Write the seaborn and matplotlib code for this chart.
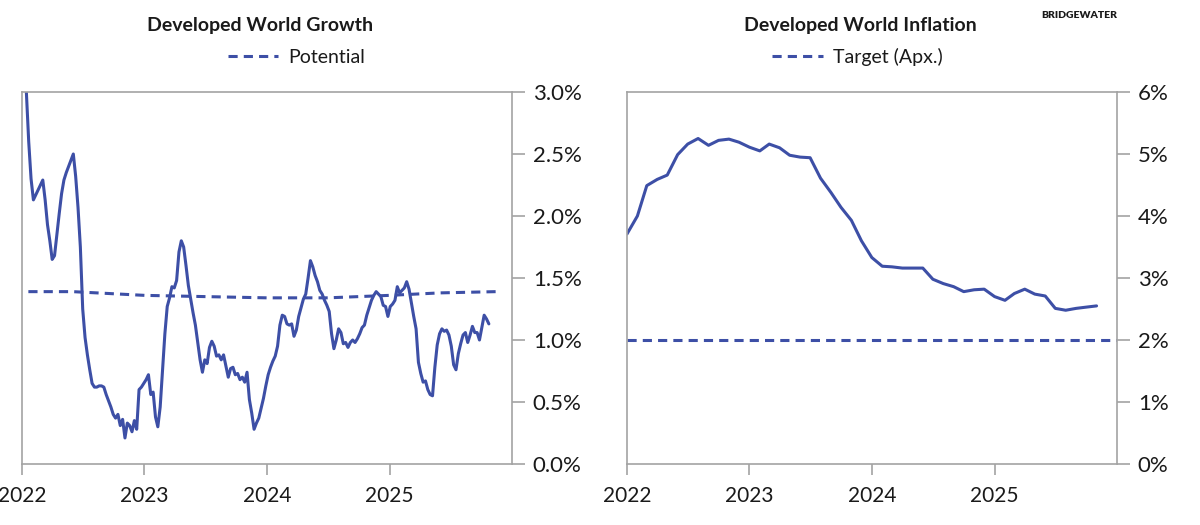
import numpy as np
import pandas as pd
import seaborn as sns
import matplotlib
matplotlib.use("Agg")
import matplotlib.pyplot as plt
from matplotlib.ticker import FuncFormatter

# ---- data (percent) ----
# weekly growth readings starting mid-Jan 2022
growth_start = "2022-01-14"
growth_values = [
    3.00, 2.60, 2.30, 2.13, 2.17, 2.21, 2.25, 2.29, 2.13, 1.93, 1.80, 1.65,
    1.68, 1.85, 2.02, 2.18, 2.29, 2.35, 2.40, 2.45, 2.50, 2.32, 2.07, 1.75,
    1.25, 1.02, 0.88, 0.76, 0.65, 0.62, 0.62, 0.63, 0.63, 0.62, 0.56, 0.51,
    0.46, 0.40, 0.37, 0.40, 0.31, 0.36, 0.21, 0.33, 0.31, 0.26, 0.35, 0.28,
    0.60, 0.62, 0.65, 0.68, 0.72, 0.56, 0.58, 0.38, 0.30, 0.46, 0.76, 1.05,
    1.27, 1.34, 1.43, 1.42, 1.48, 1.71, 1.80, 1.75, 1.60, 1.44, 1.33, 1.22,
    1.12, 0.98, 0.84, 0.74, 0.84, 0.81, 0.94, 0.99, 0.95, 0.87, 0.88, 0.84,
    0.88, 0.79, 0.70, 0.77, 0.78, 0.72, 0.73, 0.68, 0.70, 0.66, 0.74, 0.52,
    0.41, 0.28, 0.33, 0.37, 0.45, 0.53, 0.63, 0.72, 0.78, 0.83, 0.87, 0.95,
    1.12, 1.20, 1.19, 1.13, 1.12, 1.13, 1.03, 1.08, 1.19, 1.26, 1.33, 1.37,
    1.50, 1.64, 1.59, 1.52, 1.47, 1.40, 1.37, 1.32, 1.28, 1.23, 1.05, 0.93,
    1.00, 1.09, 1.06, 0.97, 0.98, 0.94, 0.98, 1.00, 0.98, 1.01, 1.05, 1.10,
    1.12, 1.20, 1.26, 1.32, 1.36, 1.39, 1.37, 1.35, 1.28, 1.27, 1.19, 1.27,
    1.29, 1.32, 1.43, 1.38, 1.40, 1.42, 1.47, 1.41, 1.30, 1.19, 1.09, 0.82,
    0.73, 0.66, 0.67, 0.60, 0.56, 0.55, 0.78, 0.96, 1.05, 1.09, 1.07, 1.08,
    1.04, 0.95, 0.80, 0.76, 0.89, 0.97, 1.04, 1.06, 0.98, 1.04, 1.11, 1.06,
    1.06, 1.00, 1.10, 1.20, 1.17, 1.13,
]

potential_dates = ["2022-01-20", "2022-06-01", "2023-01-01", "2023-07-01", "2024-01-01",
                   "2024-07-01", "2025-01-01", "2025-06-01", "2025-11-15"]
potential_values = [1.39, 1.39, 1.36, 1.35, 1.34, 1.34, 1.36, 1.38, 1.39]

# monthly inflation readings starting Jan 2022
inflation_start = "2022-01-01"
inflation_values = [
    3.71, 4.00, 4.49, 4.59, 4.66, 4.99, 5.16, 5.25, 5.14, 5.22, 5.24, 5.19,
    5.11, 5.05, 5.16, 5.10, 4.98, 4.95, 4.94, 4.61, 4.38, 4.14, 3.93, 3.60,
    3.33, 3.19, 3.18, 3.16, 3.16, 3.16, 2.98, 2.91, 2.86, 2.78, 2.81, 2.82,
    2.70, 2.64, 2.75, 2.82, 2.74, 2.71, 2.51, 2.48, 2.51, 2.53, 2.55,
]

target_dates = ["2022-01-01", "2026-01-01"]
target_values = [2.0, 2.0]

year_ticks = ["2022", "2023", "2024", "2025"]
growth_yticks = [0.0, 0.5, 1.0, 1.5, 2.0, 2.5, 3.0]
inflation_yticks = [0, 1, 2, 3, 4, 5, 6]

growth = pd.DataFrame({
    "date": pd.date_range(growth_start, periods=len(growth_values), freq="W-FRI"),
    "value": growth_values,
})
inflation = pd.DataFrame({
    "date": pd.date_range(inflation_start, periods=len(inflation_values), freq="MS"),
    "value": inflation_values,
})
potential = pd.DataFrame({"date": pd.to_datetime(potential_dates), "value": potential_values})
target = pd.DataFrame({"date": pd.to_datetime(target_dates), "value": target_values})

# ---- style ----
sns.set_style("white")
plt.rcParams["font.family"] = ["Lato", "DejaVu Sans"]
LINE = "#3d4fa6"
SPINE = "#a3a3a3"
TEXT = "#1a1a1a"

fig = plt.figure(figsize=(12, 5.25), dpi=100)
ax1 = fig.add_axes([22 / 1200, 61 / 525, 490 / 1200, 372 / 525])
ax2 = fig.add_axes([627 / 1200, 61 / 525, 490 / 1200, 372 / 525])

sns.lineplot(data=growth, x="date", y="value", ax=ax1, color=LINE, linewidth=2.2, legend=False)
sns.lineplot(data=potential, x="date", y="value", ax=ax1, color=LINE, linewidth=2.2,
             linestyle=(0, (3, 2)), label="Potential")
sns.lineplot(data=inflation, x="date", y="value", ax=ax2, color=LINE, linewidth=2.2, legend=False)
sns.lineplot(data=target, x="date", y="value", ax=ax2, color=LINE, linewidth=2.2,
             linestyle=(0, (3, 2)), label="Target (Apx.)")

def style_axis(ax, yticks, fmt, ymax):
    ax.set_xlim(pd.Timestamp("2022-01-01"), pd.Timestamp("2026-01-01"))
    ax.set_ylim(0, ymax)
    ax.set_xticks([pd.Timestamp(y + "-01-01") for y in year_ticks])
    ax.set_xticklabels(year_ticks)
    ax.set_yticks(yticks)
    ax.yaxis.set_major_formatter(FuncFormatter(lambda v, p: fmt.format(v)))
    ax.yaxis.tick_right()
    ax.set_xlabel("")
    ax.set_ylabel("")
    for s in ax.spines.values():
        s.set_color(SPINE)
        s.set_linewidth(1.2)
    ax.tick_params(axis="y", which="both", right=True, left=False, direction="out",
                   length=9, width=1.2, color=SPINE, labelsize=16, labelcolor=TEXT, pad=6)
    ax.tick_params(axis="x", which="both", bottom=True, direction="out",
                   length=8, width=1.2, color=SPINE, labelsize=15, labelcolor=TEXT, pad=8)

style_axis(ax1, growth_yticks, "{:.1f}%", 3.0)
style_axis(ax2, inflation_yticks, "{:.0f}%", 6.0)

ax1.legend(loc="center", bbox_to_anchor=(0.56, 1.094), frameon=False, fontsize=14,
           handlelength=2.6, handletextpad=0.5, labelcolor=TEXT)
ax2.legend(loc="center", bbox_to_anchor=(0.47, 1.094), frameon=False, fontsize=14,
           handlelength=2.6, handletextpad=0.5, labelcolor=TEXT)

fig.text(260 / 1200, 1 - 26 / 525, "Developed World Growth", ha="center", va="center",
         fontsize=14, fontweight="bold", color=TEXT)
fig.text(860 / 1200, 1 - 26 / 525, "Developed World Inflation", ha="center", va="center",
         fontsize=14, fontweight="bold", color=TEXT)
fig.text(1117 / 1200, 1 - 15 / 525, "BRIDGEWATER", ha="right", va="center",
         fontsize=7.5, fontweight="heavy", color=TEXT)

fig.savefig("out.png", dpi=100)
